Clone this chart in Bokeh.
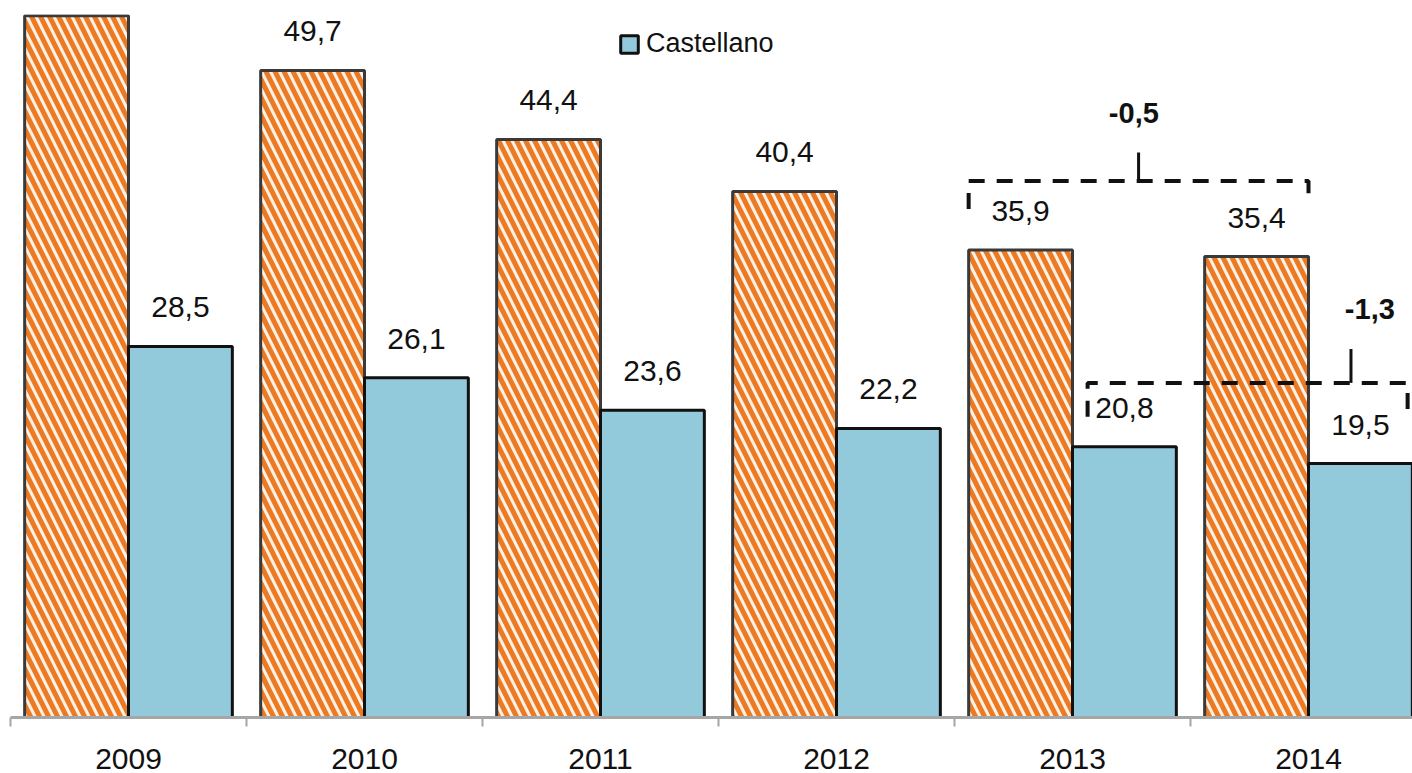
import numpy as np
from bokeh.plotting import figure
from bokeh.models import FixedTicker, Legend, LegendItem, Range1d
from bokeh.embed import file_html
from bokeh.resources import INLINE
from bokeh.core.properties import value

# ---- data ----
years = ["2009", "2010", "2011", "2012", "2013", "2014"]
series_a = [53.9, 49.7, 44.4, 40.4, 35.9, 35.4]      # hatched orange series (its legend entry is cut off)
castellano = [28.5, 26.1, 23.6, 22.2, 20.8, 19.5]
diff_a_label = "-0,5"   # 2014 vs 2013, hatched series
diff_c_label = "-1,3"   # 2014 vs 2013, Castellano

FONT = "Liberation Sans"

def fmt(v):
    return f"{v:.1f}".replace(".", ",")

idx = np.arange(len(years))
bar_w = 0.44
xa = idx - bar_w / 2
xc = idx + bar_w / 2

Y_MAX = 703 / 13.02

p = figure(width=1412, height=773, output_backend="svg", toolbar_location=None,
           x_range=Range1d(-0.5, -0.5 + 1402 / 236), y_range=Range1d(0, Y_MAX),
           y_axis_location=None, min_border_left=10, min_border_right=0,
           min_border_top=14, min_border_bottom=56)
p.outline_line_color = None
p.xgrid.visible = False
p.ygrid.visible = False
p.background_fill_color = "white"
p.border_fill_color = "white"

ra = p.vbar(x=xa, top=series_a, width=bar_w, bottom=0,
            fill_color="#FFF1E6", hatch_pattern="\\", hatch_color="#EC7A22",
            hatch_weight=5, hatch_scale=18,
            line_color="#3A3A3A", line_width=3)
rc = p.vbar(x=xc, top=castellano, width=bar_w, bottom=0,
            fill_color="#93CADB", line_color="#111111", line_width=3)

# labels only where they fall inside the visible area (2009 hatched label is off the top)
vis_a = [i for i, v in enumerate(series_a) if v + 4 < Y_MAX]
p.text(x=[xa[i] for i in vis_a], y=[series_a[i] for i in vis_a],
       text=[fmt(series_a[i]) for i in vis_a], text_align="center",
       text_baseline="alphabetic", y_offset=-39, text_font=value(FONT),
       text_font_size="30px", text_color="#111111")
p.text(x=xc, y=castellano, text=[fmt(v) for v in castellano], text_align="center",
       text_baseline="alphabetic", y_offset=-39, text_font=value(FONT),
       text_font_size="30px", text_color="#111111")

# ---- brackets (comparison 2013 -> 2014) ----
def bracket(x0, x1, xm, y, drop0, drop1, notch, label, lx, ly):
    p.line(x=[x0, x0, x1, x1], y=[y - drop0, y, y, y - drop1], line_color="#111111",
           line_width=4, line_dash="16 12")
    p.line(x=[xm, xm], y=[y, y + notch], line_color="#111111", line_width=3)
    p.text(x=[lx], y=[ly], text=[label], text_align="center", text_baseline="alphabetic",
           text_font=value(FONT), text_font_size="29px", text_font_style="bold",
           text_color="#111111")

ya = max(series_a[4], series_a[5]) + 5.3
bracket(xa[4] - bar_w / 2, xa[5] + bar_w / 2, (xa[4] + xa[5]) / 2, ya, 2.15, 1.8, 2.2,
        diff_a_label, (xa[4] + xa[5]) / 2 - 0.02, ya + 5.2)
yc = max(castellano[4], castellano[5]) + 4.9
bracket(xc[4] - 0.156, xc[5] + 0.2, xc[5] - 0.04, yc, 2.6, 2.3, 2.6,
        diff_c_label, xc[5] + 0.04, yc + 5.65)

# ---- axis ----
ax = p.xaxis[0]
ax.ticker = FixedTicker(ticks=[int(i) for i in idx],
                        minor_ticks=[float(i) - 0.5 for i in range(len(years) + 1)])
ax.major_label_overrides = {int(i): y for i, y in zip(idx, years)}
ax.axis_line_color = "#A6A6A6"
ax.axis_line_width = 3
ax.major_tick_line_color = None
ax.major_tick_out = 0
ax.major_tick_in = 0
ax.minor_tick_line_color = "#A6A6A6"
ax.minor_tick_line_width = 2
ax.minor_tick_out = 9
ax.minor_tick_in = 0
ax.major_label_standoff = 22
ax.major_label_text_font = FONT
ax.major_label_text_font_size = "30px"
ax.major_label_text_color = "#111111"

legend = Legend(items=[LegendItem(label="Castellano", renderers=[rc])],
                location=(608, 658), glyph_width=22, glyph_height=22,
                label_text_font=FONT, label_text_font_size="27px",
                label_text_color="#111111", label_standoff=6,
                padding=0, margin=0, border_line_color=None, background_fill_alpha=0)
p.add_layout(legend)

open("out.html", "w").write(file_html(p, INLINE))
